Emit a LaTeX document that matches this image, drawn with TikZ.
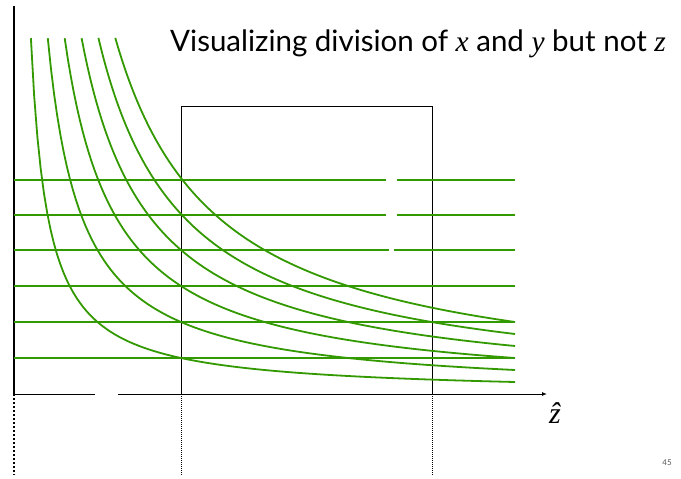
\documentclass[tikz,border=0pt]{standalone}
\usepackage{fontspec}
\newfontfamily\titlefont{Lato}
\newfontfamily\varfont{Liberation Serif}
\usetikzlibrary{arrows.meta}
\definecolor{Ink}{HTML}{000000}
\definecolor{Leaf}{HTML}{339900}
\definecolor{Quiet}{HTML}{555555}
\tikzset{
  yaxis/.style={draw=Ink,line width=2.6pt},
  xaxis/.style={draw=Ink,line width=0.9pt},
  frame/.style={draw=Ink,line width=0.9pt},
  level/.style={draw=Leaf,line width=1.6pt},
  hyp/.style={draw=Leaf,line width=1.8pt,samples=150},
  drop/.style={draw=Ink,line width=0.8pt,dash pattern=on 1pt off 1pt},
  thickdrop/.style={draw=Ink,line width=2.6pt,dash pattern=on 2.4pt off 1.6pt},
  ttl/.style={font=\titlefont\fontsize{29.5}{33}\selectfont,anchor=base west,inner sep=0pt},
  var/.style={font=\varfont\itshape},
  pg/.style={font=\titlefont\fontsize{8}{9}\selectfont,text=Quiet,inner sep=0pt}
}
\begin{document}
\begin{tikzpicture}[x=1pt,y=-1pt]
\path[use as bounding box] (0,0) rectangle (681,479);

% axes
\coordinate (corner) at (14,394);
\coordinate (top) at (14,6);
\coordinate (bottom) at (14,475);
\coordinate (gapa) at (95,394);
\coordinate (gapb) at (118,394);
\coordinate (tip) at (547,394);
\draw[yaxis] (top) -- (corner);
\draw[thickdrop] (corner) -- (bottom);
\draw[xaxis] (corner) -- (gapa);
\draw[xaxis,-{Latex[length=5pt,width=4pt]}] (gapb) -- (tip);
\node[var,font=\varfont\itshape\fontsize{30}{32}\selectfont,inner sep=0pt] (zhat) at (555,413) {\^z};

% box between the two z values
\coordinate (boxsw) at (181,394);
\coordinate (boxne) at (432,106);
\draw[frame] (boxsw) rectangle (boxne);
\draw[drop] (boxsw) -- (181,475);
\draw[drop] (432,394) -- (432,475);

% level lines
\draw[level] (14,180) -- (386,180) (397,180) -- (515,180);
\draw[level] (14,215) -- (386,215) (397,215) -- (515,215);
\draw[level] (14,250) -- (389,250) (394,250) -- (515,250);
\draw[level] (14,286) -- (515,286);
\draw[level] (14,322) -- (515,322);
\draw[level] (14,358) -- (515,358);

% hyperbolas
\draw[hyp] plot[domain=30.9:515] (\x,{394-60.12/((\x-14)/100)});
\draw[hyp] plot[domain=47.8:515] (\x,{394-120.24/((\x-14)/100)});
\draw[hyp] plot[domain=64.7:515] (\x,{394-180.36/((\x-14)/100)});
\draw[hyp] plot[domain=81.6:515] (\x,{394-240.48/((\x-14)/100)});
\draw[hyp] plot[domain=98.4:515] (\x,{394-300.6/((\x-14)/100)});
\draw[hyp] plot[domain=115.3:515] (\x,{394-360.72/((\x-14)/100)});

\node[ttl] (title) at (170,51) {Visualizing division of {\varfont\itshape x} and {\varfont\itshape y} but not {\varfont\itshape z}};
\node[pg] (page) at (667,463) {45};
\end{tikzpicture}
\end{document}
